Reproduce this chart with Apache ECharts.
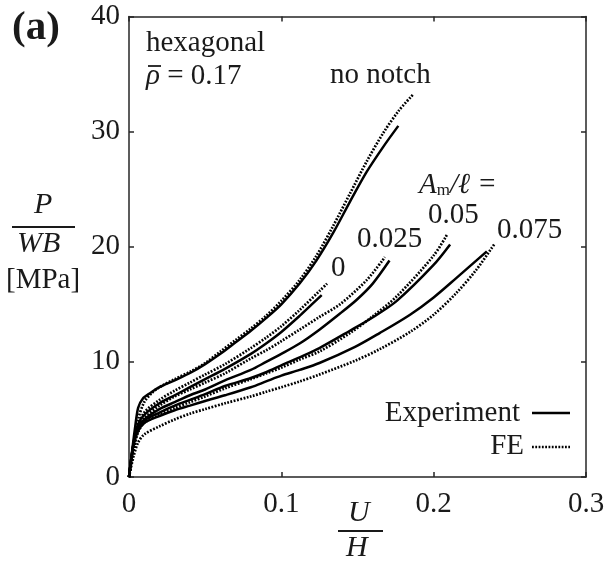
<!DOCTYPE html>
<html>
<head>
<meta charset="utf-8">
<script src="https://cdn.jsdelivr.net/npm/echarts@6/dist/echarts.min.js"></script>
<style>
  html, body { margin: 0; padding: 0; background: #fff; }
  #main { width: 609px; height: 569px; }
</style>
</head>
<body>
<div id="main"></div>
<script>
// tick labels
const xTickLabels = ['0', '0.1', '0.2', '0.3'];
const yTickLabels = ['0', '10', '20', '30', '40'];

// [U/H, P/WB]
const noNotchExp = [[0,0],[0.002,2.2],[0.004,4.3],[0.006,6.0],[0.009,6.8],[0.014,7.3],[0.02,7.8],[0.03,8.4],[0.041,9.1],[0.05,9.8],[0.06,10.7],[0.07,11.7],[0.08,12.7],[0.09,13.8],[0.1,15.0],[0.112,16.8],[0.123,18.8],[0.134,21.2],[0.145,23.9],[0.156,26.5],[0.167,28.7],[0.1768,30.5]];
const noNotchFE = [[0,0],[0.003,2.6],[0.006,5.0],[0.01,6.5],[0.015,7.3],[0.02,7.8],[0.03,8.5],[0.041,9.2],[0.05,9.9],[0.06,10.9],[0.07,11.9],[0.08,12.9],[0.09,14.0],[0.1,15.3],[0.112,17.1],[0.123,19.2],[0.134,21.8],[0.145,24.6],[0.156,27.4],[0.167,29.9],[0.177,31.8],[0.1863,33.2]];

const n0Exp = [[0,0],[0.003,3.0],[0.006,4.6],[0.01,5.4],[0.02,6.4],[0.03,7.1],[0.04,7.8],[0.05,8.5],[0.063,9.4],[0.08,10.7],[0.09,11.6],[0.1,12.6],[0.112,14.0],[0.12,15.0],[0.1265,15.8]];
const n0FE = [[0,0],[0.003,2.6],[0.006,4.4],[0.01,5.6],[0.02,6.7],[0.03,7.5],[0.04,8.2],[0.05,8.9],[0.063,9.8],[0.08,11.2],[0.09,12.1],[0.1,13.1],[0.112,14.5],[0.1254,16.2],[0.13,16.8]];

const n025Exp = [[0,0],[0.003,2.9],[0.006,4.3],[0.01,5.0],[0.02,5.9],[0.03,6.5],[0.04,7.1],[0.05,7.6],[0.063,8.4],[0.08,9.3],[0.09,10.0],[0.1,10.7],[0.112,11.6],[0.125,12.8],[0.1385,14.2],[0.1495,15.4],[0.16,16.8],[0.171,18.8]];
const n025FE = [[0,0],[0.003,2.5],[0.006,4.1],[0.01,5.1],[0.02,6.2],[0.03,7.0],[0.04,7.6],[0.05,8.2],[0.063,9.0],[0.08,10.3],[0.09,11.0],[0.1,11.8],[0.112,12.8],[0.125,13.9],[0.1385,15.0],[0.156,17.1],[0.168,19.1]];

const n05Exp = [[0,0],[0.003,2.9],[0.006,4.2],[0.01,4.9],[0.02,5.6],[0.03,6.2],[0.04,6.7],[0.05,7.2],[0.063,7.9],[0.08,8.6],[0.09,9.1],[0.1,9.7],[0.112,10.4],[0.125,11.2],[0.145,12.7],[0.1604,13.9],[0.1758,15.3],[0.1998,18.4],[0.2108,20.2]];
const n05FE = [[0,0],[0.003,2.4],[0.006,3.9],[0.01,4.7],[0.02,5.4],[0.03,6.0],[0.04,6.5],[0.05,7.0],[0.063,7.7],[0.08,8.5],[0.09,9.0],[0.1,9.5],[0.112,10.2],[0.125,10.9],[0.145,12.5],[0.1604,14.0],[0.1758,15.7],[0.1998,19.2],[0.209,21.1]];

const n075Exp = [[0,0],[0.003,2.8],[0.006,4.0],[0.01,4.7],[0.02,5.3],[0.03,5.8],[0.04,6.2],[0.05,6.6],[0.063,7.1],[0.08,7.8],[0.09,8.3],[0.1,8.8],[0.112,9.3],[0.125,9.9],[0.1484,11.3],[0.1645,12.5],[0.1845,14.1],[0.2,15.6],[0.215,17.3],[0.2349,19.6]];
const n075FE = [[0,0],[0.003,1.8],[0.006,3.0],[0.01,3.7],[0.02,4.4],[0.03,5.0],[0.04,5.5],[0.05,5.9],[0.063,6.4],[0.08,7.0],[0.09,7.4],[0.1,7.8],[0.112,8.3],[0.125,8.9],[0.1484,10.1],[0.1645,11.1],[0.1845,12.6],[0.2,14.1],[0.215,16.0],[0.228,18.0],[0.2397,20.2]];

const expCurves = [noNotchExp, n0Exp, n025Exp, n05Exp, n075Exp];
const feCurves = [noNotchFE, n0FE, n025FE, n05FE, n075FE];

const FONT = 'Liberation Serif';
const INK = '#1a1a1a';
const axisColor = '#262626';
const FE_DASH = [1.8, 1.5];

var chart = echarts.init(document.getElementById('main'));

function makeSeries(data, name) {
  var fe = name === 'FE';
  return {
    name: name,
    type: 'line',
    data: data,
    symbol: 'none',
    smooth: 0.3,
    silent: true,
    lineStyle: {
      color: '#000',
      width: fe ? 2.7 : 2.5,
      type: fe ? FE_DASH : 'solid'
    }
  };
}

var series = [];
for (var i = 0; i < expCurves.length; i++) {
  series.push(makeSeries(feCurves[i], 'FE'));
  series.push(makeSeries(expCurves[i], 'Experiment'));
}

var axisLineStyle = { color: axisColor, width: 1.5 };

function axisOf(pos, min, max, interval, labels, showLabel) {
  return {
    type: 'value', min: min, max: max, interval: interval, position: pos,
    axisLine: { show: true, onZero: false, lineStyle: axisLineStyle },
    axisTick: { show: true, inside: true, length: 5, lineStyle: axisLineStyle },
    axisLabel: showLabel ? {
      fontFamily: FONT, fontSize: 29, color: INK, margin: pos === 'bottom' ? 13 : 9,
      formatter: function (v) { return labels[Math.round(v / interval)]; }
    } : { show: false },
    splitLine: { show: false }
  };
}

var txt = function (s, size, style) {
  return (style ? style + ' ' : '') + size + 'px ' + FONT;
};

var option = {
  animation: false,
  backgroundColor: '#fff',
  grid: { left: 129, right: 23, top: 16.5, bottom: 92, containLabel: false },
  xAxis: [axisOf('bottom', 0, 0.3, 0.1, xTickLabels, true), axisOf('top', 0, 0.3, 0.1, xTickLabels, false)],
  yAxis: [axisOf('left', 0, 40, 10, yTickLabels, true), axisOf('right', 0, 40, 10, yTickLabels, false)],
  graphic: [
    { type: 'text', left: 12, top: 8, style: { text: '(a)', font: txt('', 41, 'bold'), fill: INK } },
    { type: 'text', left: 146, top: 29, style: { text: 'hexagonal', font: txt('', 29), fill: INK } },
    { type: 'text', left: 146, top: 62, style: {
        text: '{r|ρ}{n| = 0.17}',
        rich: { r: { font: txt('', 29, 'italic'), fill: INK }, n: { font: txt('', 29), fill: INK } }
    } },
    { type: 'line', shape: { x1: 148, y1: 66, x2: 161, y2: 66 }, style: { stroke: INK, lineWidth: 1.8 } },
    { type: 'text', left: 330, top: 61, style: { text: 'no notch', font: txt('', 29), fill: INK } },
    { type: 'text', left: 419, top: 171, style: {
        text: '{a|A}{s|m}{b|/ℓ =}',
        rich: {
          a: { font: txt('', 29, 'italic'), fill: INK },
          s: { font: txt('', 17), fill: INK, padding: [10, 0, 0, 0] },
          b: { font: txt('', 29, 'italic'), fill: INK }
        }
    } },
    { type: 'text', left: 428, top: 201, style: { text: '0.05', font: txt('', 29), fill: INK } },
    { type: 'text', left: 497, top: 216, style: { text: '0.075', font: txt('', 29), fill: INK } },
    { type: 'text', left: 357, top: 225, style: { text: '0.025', font: txt('', 29), fill: INK } },
    { type: 'text', left: 331, top: 254, style: { text: '0', font: txt('', 29), fill: INK } },
    // legend
    { type: 'text', right: 89, top: 399, style: { text: 'Experiment', font: txt('', 29), fill: INK } },
    { type: 'line', shape: { x1: 532, y1: 413, x2: 570, y2: 413 }, style: { stroke: '#000', lineWidth: 2.5 } },
    { type: 'text', right: 85, top: 432, style: { text: 'FE', font: txt('', 29), fill: INK } },
    { type: 'line', shape: { x1: 532, y1: 447, x2: 570, y2: 447 }, style: { stroke: '#000', lineWidth: 2.4, lineDash: FE_DASH } },
    // y axis title
    { type: 'text', left: 34, top: 190, style: { text: 'P', font: txt('', 30, 'italic'), fill: INK } },
    { type: 'line', shape: { x1: 12, y1: 227, x2: 75, y2: 227 }, style: { stroke: INK, lineWidth: 2 } },
    { type: 'text', left: 17, top: 229, style: { text: 'WB', font: txt('', 30, 'italic'), fill: INK } },
    { type: 'text', left: 6, top: 266, style: { text: '[MPa]', font: txt('', 29), fill: INK } },
    // x axis title
    { type: 'text', left: 348, top: 498, style: { text: 'U', font: txt('', 30, 'italic'), fill: INK } },
    { type: 'line', shape: { x1: 338, y1: 531, x2: 383, y2: 531 }, style: { stroke: INK, lineWidth: 2 } },
    { type: 'text', left: 346, top: 533, style: { text: 'H', font: txt('', 30, 'italic'), fill: INK } }
  ],
  series: series
};

chart.setOption(option, true);
</script>
</body>
</html>
